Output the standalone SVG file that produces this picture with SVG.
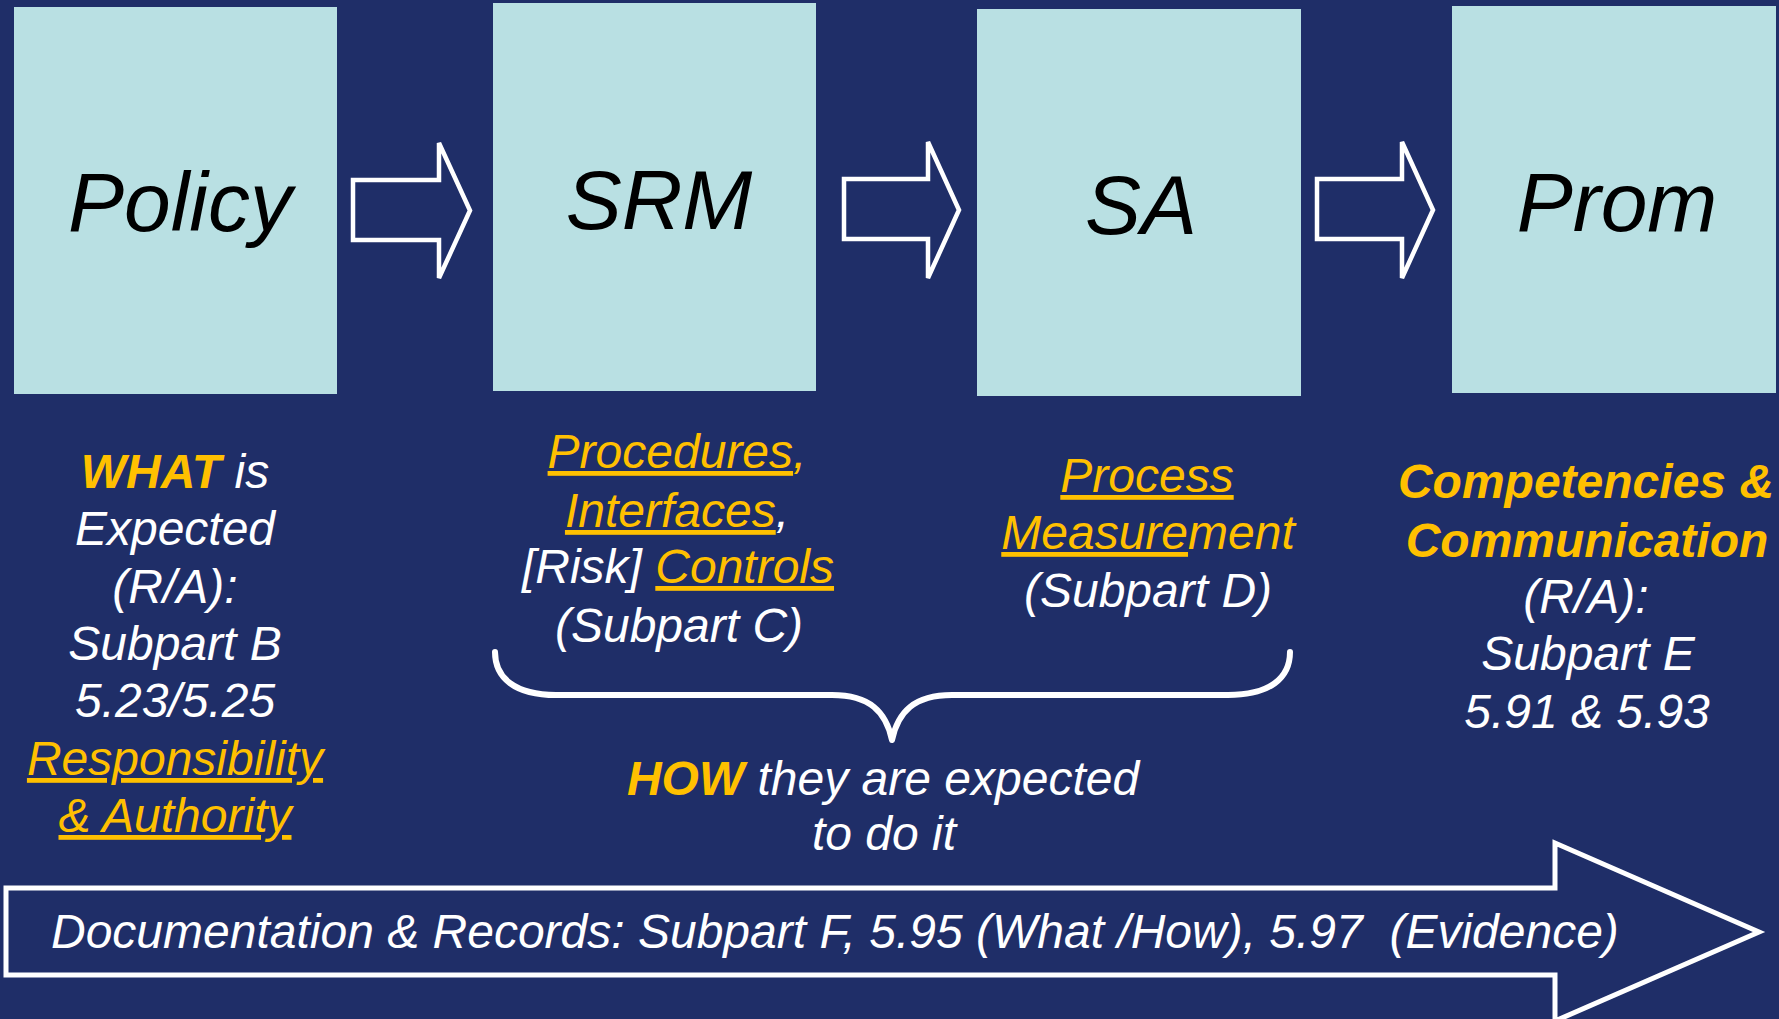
<svg xmlns="http://www.w3.org/2000/svg" width="1779" height="1019" viewBox="0 0 1779 1019">
<style>
  .bg { fill: #1F2E68; }
  .box { fill: #B9E0E3; }
  .title { font-family: "Liberation Sans", Arial, sans-serif; font-style: italic; font-size: 84px; fill: #000; text-anchor: middle; }
  .t { font-family: "Liberation Sans", Arial, sans-serif; font-style: italic; font-size: 48px; fill: #FFFFFF; text-anchor: middle; }
  .y { fill: #FFC000; }
  .b { font-weight: bold; }
  .u { text-decoration: underline; }
  .arrow { fill: none; stroke: #FFFFFF; stroke-width: 4.5; stroke-linejoin: miter; }
  .brace { fill: none; stroke: #FFFFFF; stroke-width: 6; stroke-linecap: round; stroke-linejoin: round; }
</style>
<rect class="bg" x="0" y="0" width="1779" height="1019"/>

<g id="node-policy">
  <rect class="box" x="14" y="7" width="323" height="387"/>
  <text class="title" x="180" y="231">Policy</text>
</g>
<g id="node-srm">
  <rect class="box" x="493" y="3" width="323" height="388"/>
  <text class="title" x="659" y="229">SRM</text>
</g>
<g id="node-sa">
  <rect class="box" x="977" y="9" width="324" height="387"/>
  <text class="title" x="1141" y="234">SA</text>
</g>
<g id="node-prom">
  <rect class="box" x="1452" y="6" width="324" height="387"/>
  <text class="title" x="1617" y="231">Prom</text>
</g>

<g id="connectors">
  <polygon class="arrow" points="353,180 439,180 439,143 470,210.5 439,278 439,240 353,240"/>
  <polygon class="arrow" points="844,179 928,179 928,142 959,210 928,278 928,239 844,239"/>
  <polygon class="arrow" points="1317,179 1402,179 1402,142 1433,210 1402,278 1402,239 1317,239"/>
</g>

<g id="text-policy">
  <text class="t" x="175" y="488"><tspan class="y b">WHAT</tspan> is</text>
  <text class="t" x="175" y="545">Expected</text>
  <text class="t" x="175" y="603">(R/A):</text>
  <text class="t" x="175" y="660">Subpart B</text>
  <text class="t" x="175" y="717">5.23/5.25</text>
  <text class="t y u" x="175" y="775">Responsibility</text>
  <text class="t y u" x="175" y="832">&amp; Authority</text>
</g>

<g id="text-srm">
  <text class="t" x="677" y="468"><tspan class="y u">Procedures</tspan><tspan class="y">,</tspan></text>
  <text class="t" x="677" y="527"><tspan class="y u">Interfaces</tspan>,</text>
  <text class="t" x="678" y="583">[Risk] <tspan class="y u">Controls</tspan></text>
  <text class="t" x="679" y="642">(Subpart C)</text>
</g>

<g id="text-sa">
  <text class="t y u" x="1147" y="492">Process</text>
  <text class="t y" x="1148" y="549"><tspan class="u">Measure</tspan>ment</text>
  <text class="t" x="1148" y="607">(Subpart D)</text>
</g>

<g id="text-prom">
  <text class="t y b" x="1586" y="498">Competencies &amp;</text>
  <text class="t y b" x="1587" y="557">Communication</text>
  <text class="t" x="1586" y="613">(R/A):</text>
  <text class="t" x="1588" y="670">Subpart E</text>
  <text class="t" x="1587" y="728">5.91 &amp; 5.93</text>
</g>

<g id="brace-how">
  <path class="brace" d="M495,652 C495,678 515,695 556,695 L832,695 C870,695 886,712 892,740 C898,712 914,695 952,695 L1228,695 C1270,695 1290,678 1290,652"/>
  <text class="t" x="883" y="795"><tspan class="y b">HOW</tspan> they are expected</text>
  <text class="t" x="884" y="850">to do it</text>
</g>

<g id="node-documentation">
  <polygon class="arrow" stroke-width="5" style="stroke-width:5" points="6,888 1555,888 1555,843 1759,932 1555,1021 1555,975 6,975"/>
  <text class="t" x="51" y="948" style="text-anchor:start; white-space:pre" xml:space="preserve">Documentation &amp; Records: Subpart F, 5.95 (What /How), 5.97  (Evidence)</text>
</g>
</svg>
